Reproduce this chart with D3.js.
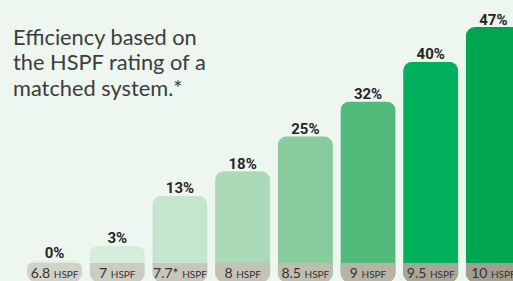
<!DOCTYPE html>
<html>
<head>
<meta charset="utf-8">
<script src="https://cdn.jsdelivr.net/npm/d3@7"></script>
<style>
  body { margin: 0; background: #eef6f0; }
  svg { display: block; }
</style>
</head>
<body>
<div id="chart"></div>
<script>
var ratings = ["6.8", "7", "7.7*", "8", "8.5", "9", "9.5", "10"];
var savings = [0, 3, 13, 18, 25, 32, 40, 47];
var barColors = ["#dcefe2", "#d6ecdd", "#c5e5cd", "#acdab8", "#88cb9c", "#52bb7b", "#00b05c", "#00a64f"];
var bandColors = ["#d3d2c8", "#cdccc1", "#c8c6bb", "#c4c2b6", "#c0bdb0", "#b7b3a5", "#aaa697", "#a39e8f"];
var titleLines = ["Efficiency based on", "the HSPF rating of a", "matched system.*"];

var width = 513, height = 281;
var bandTop = 263;

var svg = d3.select("#chart").append("svg")
    .attr("width", width)
    .attr("height", height);

svg.append("rect")
    .attr("width", width)
    .attr("height", height)
    .attr("fill", "#eef6f0");

var x = d3.scaleBand()
    .domain(ratings)
    .range([27, 521])
    .paddingInner(0.12)
    .paddingOuter(0);

var y = d3.scaleLinear()
    .domain([0, 47])
    .range([260.6, 27]);

var data = ratings.map(function(r, i) {
  return { rating: r, value: savings[i], i: i };
});

var defs = svg.append("defs");
defs.selectAll("clipPath")
    .data(data)
    .enter().append("clipPath")
    .attr("id", function(d) { return "col" + d.i; })
    .append("rect")
    .attr("x", function(d) { return x(d.rating); })
    .attr("y", function(d) { return y(d.value); })
    .attr("width", x.bandwidth())
    .attr("height", function(d) { return 282 - y(d.value); })
    .attr("rx", 9);

var col = svg.append("g")
    .selectAll("g")
    .data(data)
    .enter().append("g")
    .attr("clip-path", function(d) { return "url(#col" + d.i + ")"; });

col.append("rect")
    .attr("x", function(d) { return x(d.rating); })
    .attr("y", function(d) { return y(d.value); })
    .attr("width", x.bandwidth())
    .attr("height", function(d) { return 282 - y(d.value); })
    .attr("fill", function(d) { return barColors[d.i]; });

col.append("rect")
    .attr("x", function(d) { return x(d.rating); })
    .attr("y", bandTop)
    .attr("width", x.bandwidth())
    .attr("height", height - bandTop)
    .attr("fill", function(d) { return bandColors[d.i]; });

// percent labels over each bar
svg.append("g")
    .selectAll("text")
    .data(data)
    .enter().append("text")
    .attr("x", function(d) { return x(d.rating) + x.bandwidth() / 2; })
    .attr("y", function(d) { return y(d.value) - (d.value === 0 ? 3 : 2.5); })
    .attr("text-anchor", "middle")
    .attr("font-family", "Roboto, 'Open Sans', sans-serif")
    .attr("font-weight", 700)
    .attr("font-size", 15)
    .attr("fill", "#262626")
    .text(function(d) { return d.value + "%"; });

// HSPF labels in the grey band
var lab = svg.append("g")
    .selectAll("text")
    .data(data)
    .enter().append("text")
    .attr("x", function(d) { return x(d.rating) + x.bandwidth() / 2; })
    .attr("y", 278)
    .attr("text-anchor", "middle")
    .attr("font-family", "Lato, 'Open Sans', sans-serif")
    .attr("fill", "#333");
lab.append("tspan")
    .attr("font-size", 14)
    .text(function(d) { return d.rating + " "; });
lab.append("tspan")
    .attr("font-size", 10)
    .text("HSPF");

svg.append("g")
    .selectAll("text")
    .data(titleLines)
    .enter().append("text")
    .attr("x", 13)
    .attr("y", function(d, i) { return 44.5 + i * 25.5; })
    .attr("font-family", "Lato, sans-serif")
    .attr("font-size", 21.8)
    .attr("fill", "#3d3d3d")
    .text(function(d) { return d; });
</script>
</body>
</html>
